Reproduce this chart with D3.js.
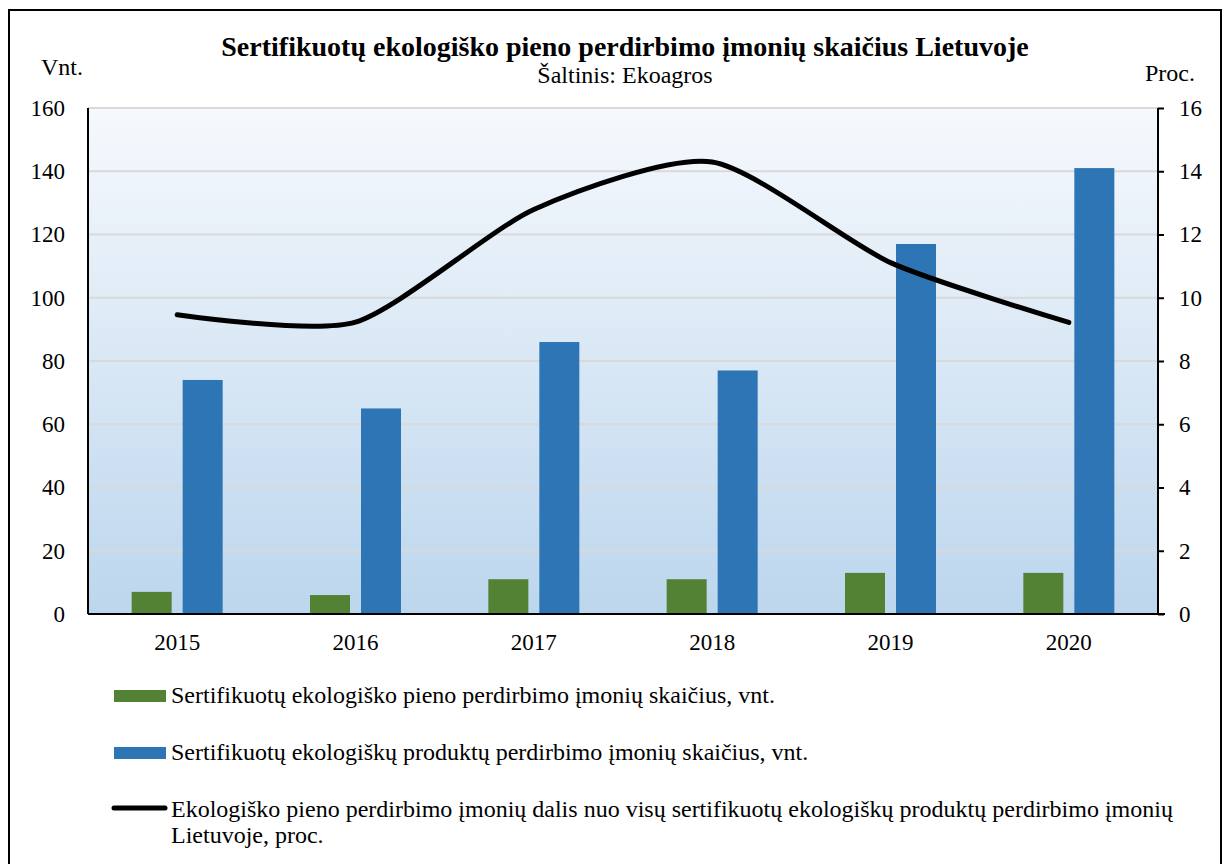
<!DOCTYPE html>
<html>
<head>
<meta charset="utf-8">
<script src="https://cdn.jsdelivr.net/npm/d3@7"></script>
</head>
<body style="margin:0">
<script>
// data
var years = ["2015", "2016", "2017", "2018", "2019", "2020"];
var milkPlants = [7, 6, 11, 11, 13, 13];
var allPlants = [74, 65, 86, 77, 117, 141];
var share = [9.46, 9.23, 12.79, 14.29, 11.11, 9.22];
var leftTicks = [0, 20, 40, 60, 80, 100, 120, 140, 160];
var rightTicks = [0, 2, 4, 6, 8, 10, 12, 14, 16];
var legendLabels = [
  "Sertifikuotų ekologiško pieno perdirbimo įmonių skaičius, vnt.",
  "Sertifikuotų ekologiškų produktų perdirbimo įmonių skaičius, vnt.",
  ["Ekologiško pieno perdirbimo įmonių dalis nuo visų sertifikuotų ekologiškų produktų perdirbimo įmonių", "Lietuvoje, proc."]
];

var width = 1228, height = 864;
var m = {left: 88, right: 1158, top: 108, bottom: 614};
var font = "'Liberation Serif'";

var svg = d3.select("body").append("svg").attr("width", width).attr("height", height)
  .style("font-family", font);

// outer frame
svg.append("rect")
  .attr("x", 9).attr("y", 10).attr("width", 1212).attr("height", 870)
  .attr("fill", "none").attr("stroke", "black").attr("stroke-width", 2);

var defs = svg.append("defs");
var grad = defs.append("linearGradient").attr("id", "bg").attr("x1", 0).attr("y1", 0).attr("x2", 0).attr("y2", 1);
grad.append("stop").attr("offset", "0%").attr("stop-color", "#f6f9fd");
grad.append("stop").attr("offset", "100%").attr("stop-color", "#bcd6ed");

var x = d3.scaleBand().domain(years).range([m.left, m.right]);
var yL = d3.scaleLinear().domain([0, 160]).range([m.bottom, m.top]);
var yR = d3.scaleLinear().domain([0, 16]).range([m.bottom, m.top]);

svg.append("rect")
  .attr("x", m.left).attr("y", m.top)
  .attr("width", m.right - m.left).attr("height", m.bottom - m.top)
  .attr("fill", "url(#bg)");

// gridlines
svg.append("g").selectAll("line").data(leftTicks.slice(1)).enter().append("line")
  .attr("x1", m.left).attr("x2", m.right)
  .attr("y1", function(d) { return yL(d); }).attr("y2", function(d) { return yL(d); })
  .attr("stroke", "#d9d9d9").attr("stroke-width", 2);

// bars
var barW = 40, gap = 11;
svg.append("g").selectAll("rect").data(milkPlants).enter().append("rect")
  .attr("x", function(d, i) { return x(years[i]) + x.bandwidth() / 2 - gap / 2 - barW; })
  .attr("y", function(d) { return yL(d); })
  .attr("width", barW)
  .attr("height", function(d) { return yL(0) - yL(d); })
  .attr("fill", "#548235");

svg.append("g").selectAll("rect").data(allPlants).enter().append("rect")
  .attr("x", function(d, i) { return x(years[i]) + x.bandwidth() / 2 + gap / 2; })
  .attr("y", function(d) { return yL(d); })
  .attr("width", barW)
  .attr("height", function(d) { return yL(0) - yL(d); })
  .attr("fill", "#2e75b6");

// share line
var line = d3.line()
  .x(function(d, i) { return x(years[i]) + x.bandwidth() / 2; })
  .y(function(d) { return yR(d); })
  .curve(d3.curveCardinal.tension(0.3));

svg.append("path").datum(share)
  .attr("d", line)
  .attr("fill", "none").attr("stroke", "black").attr("stroke-width", 5)
  .attr("stroke-linecap", "round");

// axes
var leftAxis = svg.append("g").attr("transform", "translate(" + m.left + ",0)")
  .call(d3.axisLeft(yL).tickValues(leftTicks).tickSize(0).tickPadding(23));
var rightAxis = svg.append("g").attr("transform", "translate(" + m.right + ",0)")
  .call(d3.axisRight(yR).tickValues(rightTicks).tickSize(6).tickPadding(15));
var bottomAxis = svg.append("g").attr("transform", "translate(0," + m.bottom + ")")
  .call(d3.axisBottom(x).tickSize(0).tickPadding(20));

[leftAxis, rightAxis, bottomAxis].forEach(function(a) {
  a.attr("font-family", "Liberation Serif").attr("font-size", 23);
  a.selectAll("text").style("font-family", font).style("font-size", "23px").attr("fill", "black");
  a.selectAll("path,line").attr("stroke", "black").attr("stroke-width", 2);
});
bottomAxis.select(".domain").attr("d", "M" + m.left + ",0H" + (m.right + 7));
leftAxis.select(".domain").attr("d", "M0," + m.top + "V" + m.bottom);
rightAxis.select(".domain").attr("d", "M0," + m.top + "V" + m.bottom);

function label(px, py, size, str) {
  return svg.append("text").attr("x", px).attr("y", py)
    .style("font-family", font).style("font-size", size + "px").attr("fill", "black")
    .text(str);
}

// titles
label(625, 56, 28, "Sertifikuotų ekologiško pieno perdirbimo įmonių skaičius Lietuvoje")
  .attr("text-anchor", "middle").style("font-weight", "bold");
label(625, 83, 24, "Šaltinis: Ekoagros").attr("text-anchor", "middle");
label(41, 75, 24, "Vnt.");
label(1145, 81, 24, "Proc.");

// legend
svg.append("rect").attr("x", 114).attr("y", 690).attr("width", 52).attr("height", 12).attr("fill", "#548235");
label(171, 703, 24, legendLabels[0]);
svg.append("rect").attr("x", 114).attr("y", 747).attr("width", 52).attr("height", 12).attr("fill", "#2e75b6");
label(171, 760, 24, legendLabels[1]);
svg.append("line").attr("x1", 114).attr("x2", 165).attr("y1", 808).attr("y2", 808)
  .attr("stroke", "black").attr("stroke-width", 5).attr("stroke-linecap", "round");
label(171, 817, 24, legendLabels[2][0]);
label(171, 843, 24, legendLabels[2][1]);
</script>
</body>
</html>
